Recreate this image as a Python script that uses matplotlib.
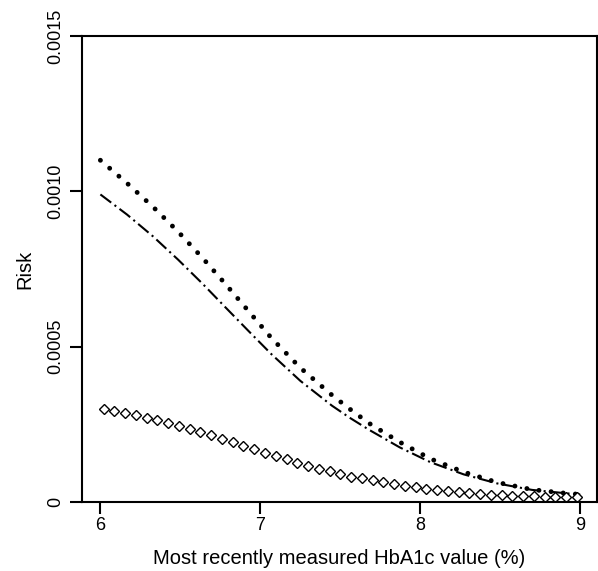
import numpy as np
import matplotlib
matplotlib.use('Agg')
import matplotlib.pyplot as plt

plt.rcParams['font.family'] = ['Liberation Sans', 'DejaVu Sans']

# dotted curve (filled dots)
dot_x = [6.0, 6.167, 6.329, 6.486, 6.638, 6.783, 6.927, 7.069, 7.25, 7.448,
         7.5625, 7.681, 7.871, 8.064, 8.271, 8.479, 8.698, 8.9125, 9.0]
dot_y = [0.00110, 0.001026, 0.00095, 0.00087, 0.000786, 0.000701, 0.000614, 0.000528,
         0.000432, 0.000344, 0.000298, 0.000253, 0.000193, 0.000139, 0.0000966,
         0.0000634, 0.0000400, 0.0000280, 0.0000245]

# dash-dot curve
dd_x = dot_x
dd_y = [0.00099, 0.000925, 0.000855, 0.000780, 0.000703, 0.000626, 0.000550, 0.000476,
        0.000390, 0.000310, 0.000270, 0.000232, 0.000176, 0.000128, 0.0000890,
        0.0000600, 0.0000390, 0.0000280, 0.0000240]

# open diamonds
dia_x = np.linspace(6.02, 8.98, 45)
dia_y = [0.000299, 0.000293, 0.000286, 0.000280, 0.000271, 0.000263, 0.000253, 0.000244,
         0.000234, 0.000224, 0.000215, 0.000204, 0.000193, 0.000181, 0.000171, 0.000159,
         0.000148, 0.000137, 0.000127, 0.000116, 0.000107, 0.0000988, 0.0000892, 0.0000814,
         0.0000760, 0.0000698, 0.0000644, 0.0000579, 0.0000515, 0.0000473, 0.0000428,
         0.0000386, 0.0000354, 0.0000322, 0.0000290, 0.0000267, 0.0000240, 0.0000215,
         0.0000195, 0.0000190, 0.0000183, 0.0000170, 0.0000160, 0.0000158, 0.0000150]

xticks = [6, 7, 8, 9]
yticks = [0, 0.0005, 0.0010, 0.0015]
ylabels = ['0', '0.0005', '0.0010', '0.0015']

W, H = 598, 571
fig = plt.figure(figsize=(W / 100, H / 100), dpi=100)
ax = fig.add_axes([82 / W, (H - 502) / H, (597 - 82) / W, (502 - 36) / H])

ax.plot(dot_x, dot_y, color='black', lw=3.5, linestyle=(0, (0.01, 2.5)),
        dash_capstyle='round')
ax.plot(dd_x, dd_y, color='black', lw=1.5, linestyle=(0, (6.5, 2, 1, 2)))
ax.plot(dia_x, dia_y, linestyle='none', marker='D', ms=5.3, mfc='white',
        mec='black', mew=1)

ax.set_xlim(5.885, 9.105)
ax.set_ylim(0, 0.0015)
ax.set_xticks(xticks)
ax.set_xticklabels([str(t) for t in xticks])
ax.set_yticks(yticks)
ax.set_yticklabels(ylabels, rotation=90, va='center')

for s in ax.spines.values():
    s.set_linewidth(1.5)
ax.tick_params(direction='out', length=8.6, width=1.5, labelsize=13)
ax.tick_params(axis='x', pad=2.5)
ax.tick_params(axis='y', pad=4.5)

ax.set_xlabel('Most recently measured HbA1c value (%)', fontsize=14.5, va='baseline')
ax.xaxis.set_label_coords(0.5, -(564 - 502) / 466)
ax.set_ylabel('Risk', fontsize=14.5, va='center')
ax.yaxis.set_label_coords((24.5 - 82) / 515, 0.5)

fig.savefig('out.png', dpi=100)
